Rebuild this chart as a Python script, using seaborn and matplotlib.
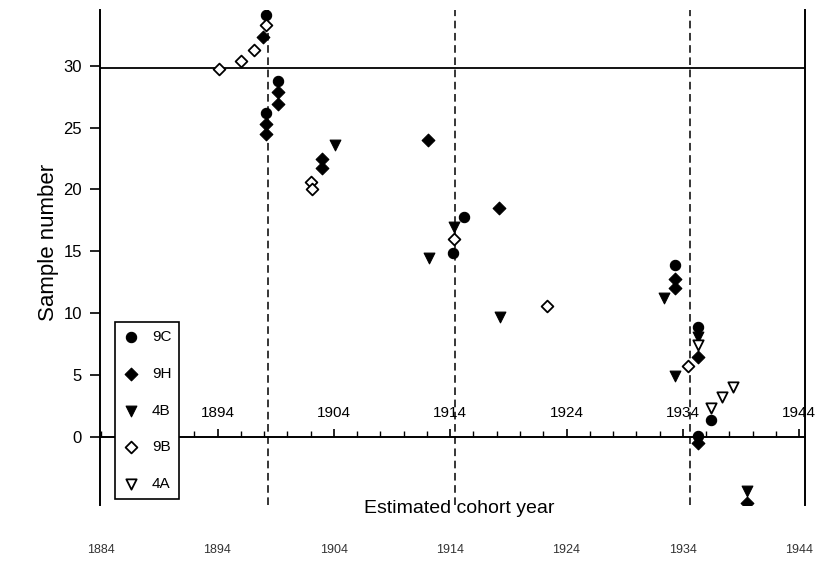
import matplotlib
matplotlib.use("Agg")
import matplotlib.pyplot as plt
from matplotlib.ticker import MultipleLocator
import seaborn as sns
import pandas as pd

# ---- data ----
series_names = ["9C", "9H", "4B", "9B", "4A"]

year_9C = [1898.2, 1899.2, 1898.2, 1915.2, 1914.2, 1933.3, 1935.3, 1936.4, 1935.3]
num_9C = [34.1, 28.8, 26.2, 17.8, 14.9, 13.9, 8.9, 1.4, 0.1]

year_9H = [1897.9, 1899.2, 1899.2, 1898.2, 1898.2, 1903.0, 1903.0, 1912.1, 1918.2,
           1933.3, 1933.3, 1935.3, 1935.3, 1939.5]
num_9H = [32.3, 27.9, 26.9, 25.3, 24.5, 22.5, 21.7, 24.0, 18.5,
          12.8, 12.0, 6.5, -0.5, -5.3]

year_4B = [1904.1, 1914.3, 1912.2, 1918.3, 1932.4, 1933.3, 1939.5, 1935.3]
num_4B = [23.6, 17.0, 14.5, 9.7, 11.2, 4.9, -4.4, 8.1]

year_9B = [1898.2, 1897.1, 1896.0, 1894.1, 1902.0, 1902.1, 1914.3, 1922.3, 1934.4]
num_9B = [33.3, 31.3, 30.4, 29.7, 20.6, 20.0, 16.0, 10.6, 5.7]

year_4A = [1935.3, 1938.3, 1937.4, 1936.4]
num_4A = [7.4, 4.0, 3.2, 2.3]

reference_years = [1898.3, 1914.4, 1934.6]
reference_level = 29.8

y_ticks = [0, 5, 10, 15, 20, 25, 30]
x_ticks = [1894, 1904, 1914, 1924, 1934, 1944]
x_ticks_lower = [1884, 1894, 1904, 1914, 1924, 1934, 1944]

x_label = "Estimated cohort year"
y_label = "Sample number"

# ---- build table ----
frames = []
for name, xs, ys in [("9C", year_9C, num_9C), ("9H", year_9H, num_9H),
                     ("4B", year_4B, num_4B), ("9B", year_9B, num_9B),
                     ("4A", year_4A, num_4A)]:
    frames.append(pd.DataFrame({"year": xs, "num": ys, "series": name}))
df = pd.concat(frames, ignore_index=True)

styles = {
    "9C": dict(marker="o", s=55, filled=True),
    "9H": dict(marker="D", s=42, filled=True),
    "4B": dict(marker="v", s=60, filled=True),
    "9B": dict(marker="D", s=36, filled=False),
    "4A": dict(marker="v", s=55, filled=False),
}

sns.set_theme(style="white")
plt.rcParams["font.family"] = ["Liberation Sans", "DejaVu Sans"]

fig = plt.figure(figsize=(8.28, 5.65), dpi=100)
ax = fig.add_axes([100 / 828, 1 - 505 / 565, 705 / 828, 495 / 565])

for yr in reference_years:
    ax.axvline(yr, color="black", lw=1.1, ls=(0, (5, 3)), zorder=1)
ax.axhline(reference_level, color="black", lw=1.3, zorder=1)

for name in series_names:
    sub = df[df["series"] == name]
    st = styles[name]
    if st["filled"]:
        sns.scatterplot(data=sub, x="year", y="num", marker=st["marker"], s=st["s"],
                        color="black", edgecolor="black", linewidth=0.8,
                        label=name, ax=ax, zorder=3)
    else:
        sns.scatterplot(data=sub, x="year", y="num", marker=st["marker"], s=st["s"],
                        facecolor="white", edgecolor="black", linewidth=1.3,
                        label=name, ax=ax, zorder=3)

ax.set_xlim(1883.9, 1944.5)
ax.set_ylim(-5.5, 34.5)

# spines
ax.spines["top"].set_visible(False)
for sp in ["left", "right", "bottom"]:
    ax.spines[sp].set_color("black")
    ax.spines[sp].set_linewidth(1.4)
ax.spines["bottom"].set_position(("data", 0))

ax.set_xticks(x_ticks)
ax.xaxis.set_minor_locator(MultipleLocator(2))
ax.tick_params(axis="x", which="major", direction="in", length=6, width=1.2,
               pad=-22, labelsize=11, colors="black", bottom=True)
ax.tick_params(axis="x", which="minor", direction="in", length=4, width=1.0,
               bottom=True, colors="black")

ax.set_yticks(y_ticks)
ax.tick_params(axis="y", which="major", direction="out", length=7, width=1.2,
               pad=6, labelsize=12, colors="black", left=True)

ax.set_xlabel(x_label, fontsize=14, color="black")
ax.xaxis.set_label_coords(0.51, 0.010)
ax.set_ylabel(y_label, fontsize=16, color="black")
ax.yaxis.set_label_coords(-0.058, 0.53)

# duplicate year row below the plot
secax = ax.secondary_xaxis(-0.07)
secax.set_xticks(x_ticks_lower)
secax.tick_params(length=0, labelsize=9, labelcolor="#333333", pad=3)
secax.spines["bottom"].set_visible(False)

leg = ax.legend(loc="upper left", bbox_to_anchor=(0.011, 0.385), frameon=True,
                fancybox=False, edgecolor="black", fontsize=11, labelspacing=1.5,
                handletextpad=0.9, borderpad=0.5, handlelength=1.0, framealpha=1,
                labelcolor="black")
leg.get_frame().set_linewidth(1.2)
leg.set_zorder(10)

fig.savefig("out.png", dpi=100, facecolor="white")
